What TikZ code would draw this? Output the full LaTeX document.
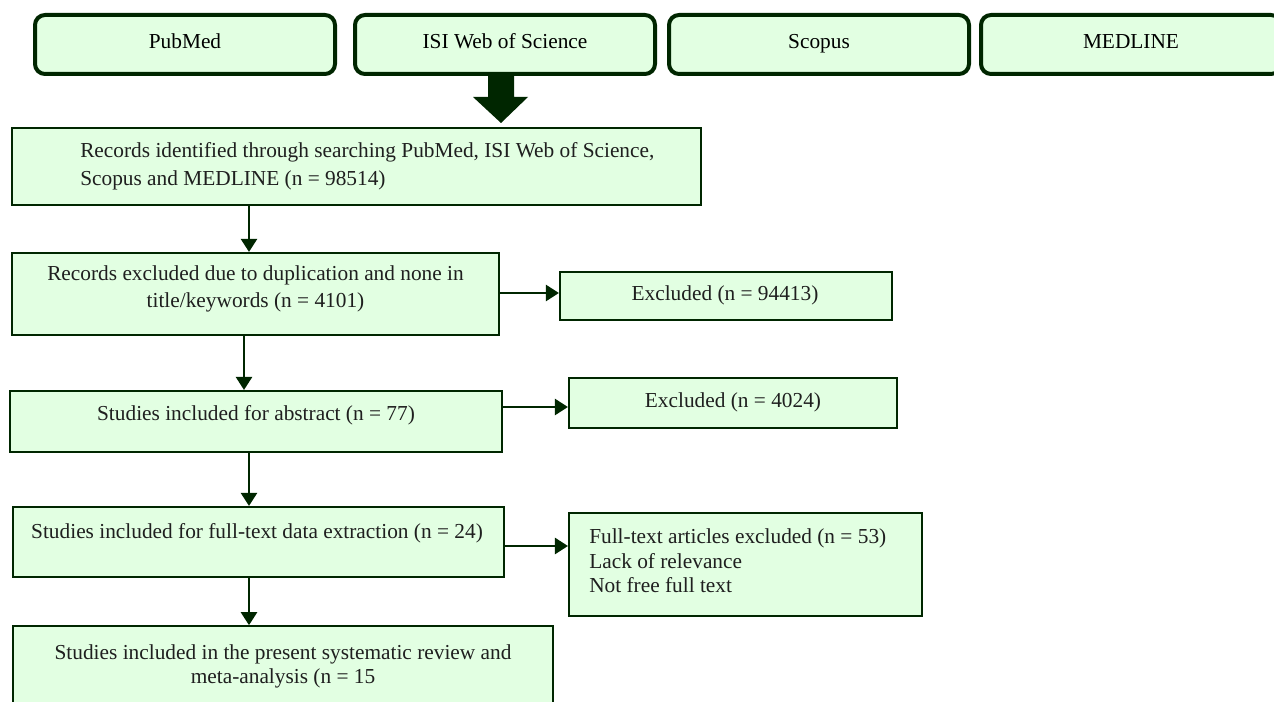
\documentclass[tikz,border=0pt]{standalone}
\usepackage{fontspec}
\setmainfont{Liberation Serif}
\usetikzlibrary{arrows.meta,calc}
\definecolor{boxfill}{RGB}{226,255,226}
\definecolor{boxline}{RGB}{0,38,0}
\begin{document}
\begin{tikzpicture}[x=0.75pt,y=-0.75pt,
  srcbox/.style={draw=boxline, fill=boxfill, line width=3pt, rounded corners=7.5pt,
    minimum width=225pt, minimum height=44.25pt, inner sep=0pt,
    text height=11pt, text depth=4.25pt,
    font=\fontsize{16}{20}\selectfont},
  flowbox/.style={draw=boxline, fill=boxfill, line width=1.2pt, inner sep=0pt},
  txt/.style={inner sep=0pt, text=black!88, font=\fontsize{16}{21}\selectfont},
  arr/.style={draw=boxline, line width=1.8pt, -{Triangle[length=9.75pt,width=12pt]}},
]
\useasboundingbox (0,0) rectangle (1274,702);
\clip (0,0) rectangle (1274,702);

% source boxes
\node[srcbox] (pub) at (185,44.5) {PubMed};
\node[srcbox] (isi) at (505,44.5) {ISI Web of Science};
\node[srcbox] (sco) at (819,44.5) {Scopus};
\node[srcbox] (med) at (1131,44.5) {MEDLINE};

% flow boxes
\node[flowbox, minimum width=516.75pt, minimum height=58.1pt] (b1) at (356.5,166.5) {};
\node[flowbox, minimum width=365.6pt, minimum height=61.9pt] (b2) at (255.5,294) {};
\node[flowbox, minimum width=369.4pt, minimum height=46.1pt] (b3) at (256,421.5) {};
\node[flowbox, minimum width=368.6pt, minimum height=52.9pt] (b4) at (258.5,542) {};
\node[flowbox, minimum width=405.4pt, minimum height=75pt] (b5) at (283,676) {};
\node[flowbox, minimum width=249.4pt, minimum height=36.4pt] (e1) at (726,296) {};
\node[flowbox, minimum width=246.4pt, minimum height=37.9pt] (e2) at (733,403) {};
\node[flowbox, minimum width=265.1pt, minimum height=77.6pt] (e3) at (745.5,564.5) {};

% texts
\node[txt, anchor=west, align=left] (t1) at (80,166)
  {Records identified through searching PubMed, ISI Web of Science,\\Scopus and MEDLINE (n = 98514)};
\node[txt, align=center, font=\fontsize{16}{20.25}\selectfont] (t2) at (255.5,288.5)
  {Records excluded due to duplication and none in\\title/keywords (n = 4101)};
\node[txt] (t3) at (256,415) {Studies included for abstract (n = 77)};
\node[txt] (t4) at (257,533) {Studies included for full-text data extraction (n = 24)};
\node[txt, align=center, font=\fontsize{16}{18}\selectfont] (t5) at (283,666)
  {Studies included in the present systematic review and\\meta-analysis (n = 15};
\node[txt] (te1) at (725,295) {Excluded (n = 94413)};
\node[txt] (te2) at (733,402) {Excluded (n = 4024)};
\node[txt, anchor=west, align=left, font=\fontsize{16}{18.4}\selectfont] (te3) at (589,561)
  {Full-text articles excluded (n = 53)\\Lack of relevance\\Not free full text};

% big arrow from sources
\fill[boxline] (488,76) -- (514,76) -- (514,97) -- (528,97) -- (501,123) -- (473,97) -- (488,97) -- cycle;

% vertical connectors
\coordinate (v1) at (249,0);
\coordinate (v2) at (244,0);
\draw[arr] (v1 |- b1.south) -- (v1 |- b2.north);
\draw[arr] (v2 |- b2.south) -- (v2 |- b3.north);
\draw[arr] (v1 |- b3.south) -- (v1 |- b4.north);
\draw[arr] (v1 |- b4.south) -- (v1 |- b5.north);

% horizontal connectors
\coordinate (h1) at (0,293);
\coordinate (h2) at (0,407);
\coordinate (h3) at (0,546);
\draw[arr] (b2.east |- h1) -- (e1.west |- h1);
\draw[arr] (b3.east |- h2) -- (e2.west |- h2);
\draw[arr] (b4.east |- h3) -- (e3.west |- h3);
\end{tikzpicture}
\end{document}
